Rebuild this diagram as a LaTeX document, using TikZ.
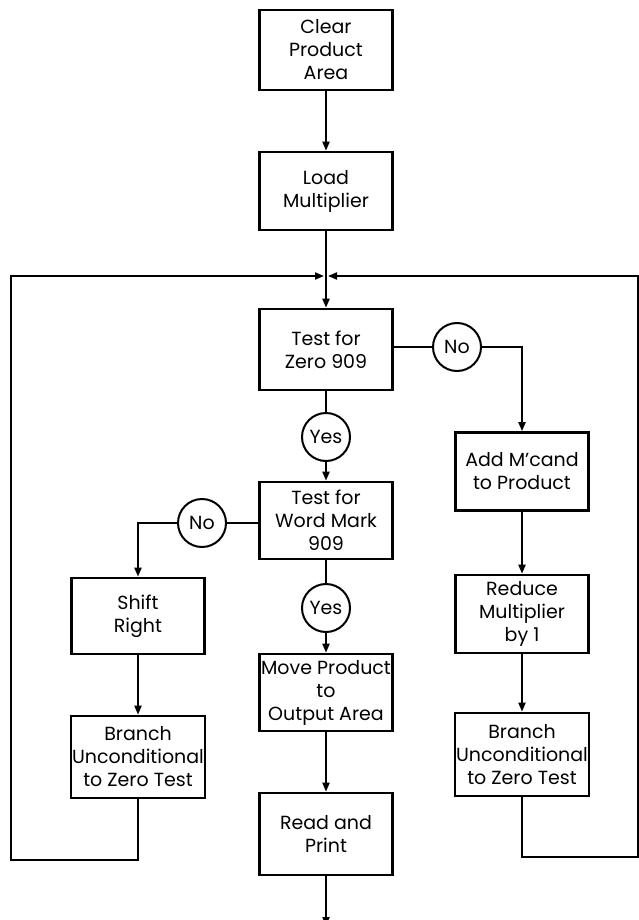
\documentclass[tikz,border=0pt]{standalone}
\usepackage{fontspec}
\setmainfont{Poppins}
\usetikzlibrary{arrows.meta}

\begin{document}
\begin{tikzpicture}[x=1pt, y=-1pt,
    font={\fontsize{19}{23}\selectfont},
    flowbox/.style={draw, line width=2.6pt, minimum width=133pt, minimum height=78pt,
      align=center, inner sep=1pt},
    answer/.style={draw, circle, line width=2pt, minimum size=48pt, inner sep=0pt},
    link/.style={line width=2pt},
    flow/.style={link, -{Triangle[length=9pt,width=7pt]}}]
    \useasboundingbox (0,0) rectangle (639,920);
    % main column
    \node[flowbox, minimum height=80pt] (clear) at (326,50) {Clear\\Product\\Area};
    \node[flowbox] (load) at (326,191) {Load\\Multiplier};
    \coordinate (merge) at (326,276);
    \node[flowbox, minimum height=81pt] (zero) at (326,349.5) {Test for\\Zero 909};
    \node[answer] (yes1) at (326,437) {Yes};
    \node[flowbox, minimum height=77pt] (wmark) at (326,520.5) {Test for\\Word Mark\\909};
    \node[answer] (yes2) at (326,608) {Yes};
    \node[flowbox, minimum height=77pt] (move) at (326,692.5) {Move Product\\to\\Output Area};
    \node[flowbox, minimum height=82pt] (read) at (326,834) {Read and\\Print};
    \coordinate (out) at (326,926);
    % right column
    \node[answer] (no1) at (457,347) {No};
    \node[flowbox] (add) at (522,471.5) {Add M'cand\\to Product};
    \node[flowbox] (reduce) at (522,614) {Reduce\\Multiplier\\by 1};
    \node[flowbox, minimum height=83pt] (brr) at (522,754.5) {Branch\\Unconditional\\to Zero Test};
    \coordinate (rdown) at (522,857);
    \coordinate (rcorner) at (638,857);
    \coordinate (rtop) at (638,276);
    % left column
    \node[answer] (no2) at (202,523) {No};
    \node[flowbox, minimum height=76pt] (shift) at (138,616) {Shift\\Right};
    \node[flowbox, minimum height=82pt] (brl) at (138,757) {Branch\\Unconditional\\to Zero Test};
    \coordinate (ldown) at (138,860);
    \coordinate (lcorner) at (11,860);
    \coordinate (ltop) at (11,276);
    % connectors
    \draw[flow] (clear) -- (load);
    \draw[flow] (load) -- (zero);
    \draw[link] (zero.east |- no1) -- (no1);
    \draw[flow] (no1) -| (add);
    \draw[link] (zero) -- (yes1);
    \draw[flow] (yes1) -- (wmark);
    \draw[link] (wmark.west |- no2) -- (no2);
    \draw[flow] (no2) -| (shift);
    \draw[link] (wmark) -- (yes2);
    \draw[flow] (yes2) -- (move);
    \draw[flow] (move) -- (read);
    \draw[flow] (read) -- (out);
    \draw[flow] (shift) -- (brl);
    \draw[flow] (add) -- (reduce);
    \draw[flow] (reduce) -- (brr);
    % loops back to the zero test
    \draw[flow, shorten >=1pt] (brl) -- (ldown) -- (lcorner) -- (ltop) -- ([xshift=-1pt]merge);
    \draw[flow, shorten >=1pt] (brr) -- (rdown) -- (rcorner) -- (rtop) -- ([xshift=1pt]merge);
\end{tikzpicture}
\end{document}
